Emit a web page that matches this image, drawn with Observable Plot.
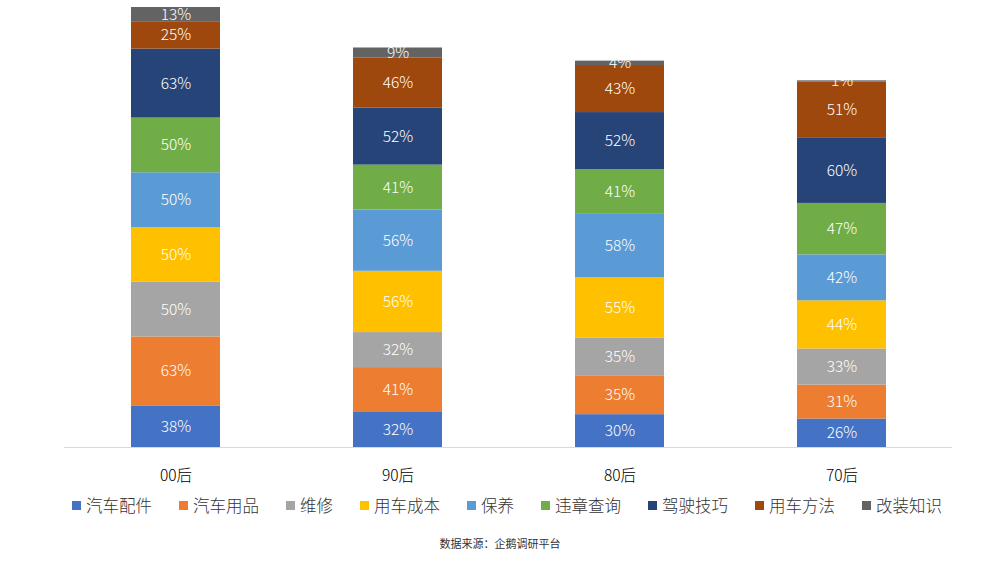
<!DOCTYPE html>
<html>
<head>
<meta charset="utf-8">
<script src="https://cdn.jsdelivr.net/npm/d3@7"></script>
<script src="https://cdn.jsdelivr.net/npm/@observablehq/plot@0.6"></script>
<style>
  html, body { margin: 0; padding: 0; background: #fff; }
  body { width: 1000px; height: 563px; overflow: hidden; font-family: "Noto Sans CJK SC", "Noto Sans", sans-serif; }
  #chart svg { display: block; }
  #legend { display: flex; justify-content: center; align-items: center; gap: 27px; height: 30px; margin-top: 0px; padding-left: 14px; font-size: 16.5px; color: #333; font-weight: 300; }
  #legend .item { display: flex; align-items: center; }
  #legend .sw { width: 9px; height: 9px; margin-right: 5px; }
  #caption { text-align: center; font-size: 11px; color: #333; margin-top: 15px; }
</style>
</head>
<body>
<div id="chart"></div>
<div id="legend"></div>
<div id="caption">数据来源：企鹅调研平台</div>
<script>
const groups = ["00后", "90后", "80后", "70后"];
const series = ["汽车配件", "汽车用品", "维修", "用车成本", "保养", "违章查询", "驾驶技巧", "用车方法", "改装知识"];
const colors = ["#4472C4", "#ED7D31", "#A5A5A5", "#FFC000", "#5B9BD5", "#70AD47", "#264478", "#9E480E", "#636363"];
const values00 = [38, 63, 50, 50, 50, 50, 63, 25, 13];
const values90 = [32, 41, 32, 56, 56, 41, 52, 46, 9];
const values80 = [30, 35, 35, 55, 58, 41, 52, 43, 4];
const values70 = [26, 31, 33, 44, 42, 47, 60, 51, 1];

const valueLists = [values00, values90, values80, values70];
const data = [];
groups.forEach((g, gi) => {
  series.forEach((s, si) => {
    data.push({group: g, series: s, value: valueLists[gi][si]});
  });
});

const chart = Plot.plot({
  width: 1000,
  height: 490,
  marginLeft: 64,
  marginRight: 48,
  marginTop: 7,
  marginBottom: 43,
  style: {fontFamily: '"Noto Sans CJK SC", sans-serif', fontSize: "15.5px", color: "#000", fontWeight: 300},
  x: {domain: groups, paddingInner: 0.6, paddingOuter: 0.3, label: null, tickSize: 0, tickPadding: 22},
  y: {domain: [0, 402], axis: null},
  color: {domain: series, range: colors},
  marks: [
    Plot.barY(data, {x: "group", y: "value", fill: "series", z: "series"}),
    Plot.text(data, Plot.stackY({x: "group", y: "value", z: "series", text: d => d.value + "%", fill: "white", fontSize: 15.5, fontWeight: 300})),
    Plot.ruleY([0], {stroke: "#d9d9d9", strokeWidth: 1})
  ]
});
document.getElementById("chart").appendChild(chart);

const legend = document.getElementById("legend");
series.forEach((s, i) => {
  const item = document.createElement("div");
  item.className = "item";
  const sw = document.createElement("span");
  sw.className = "sw";
  sw.style.background = colors[i];
  const t = document.createElement("span");
  t.textContent = s;
  item.appendChild(sw);
  item.appendChild(t);
  legend.appendChild(item);
});
</script>
</body>
</html>
